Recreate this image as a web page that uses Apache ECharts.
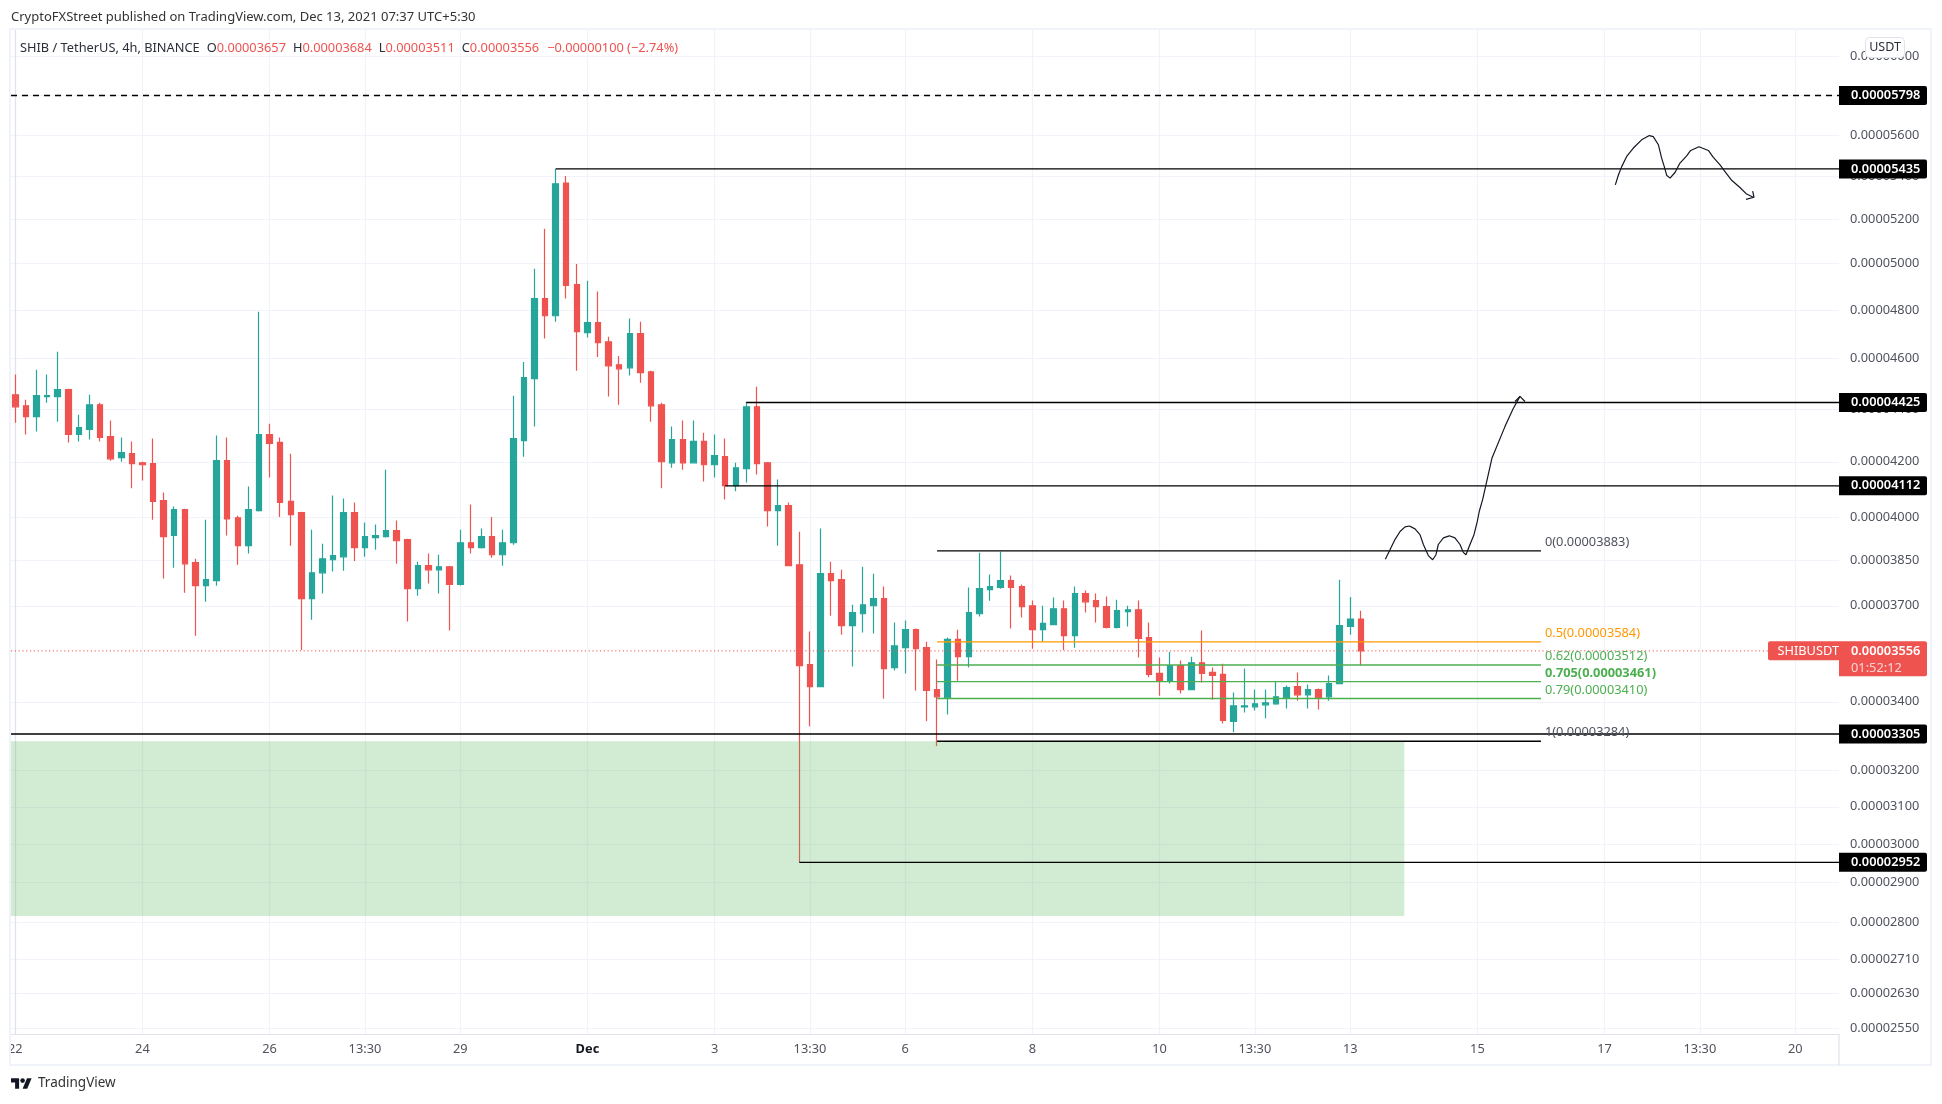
<!DOCTYPE html>
<html>
<head>
<meta charset="utf-8">
<title>SHIB / TetherUS</title>
<style>html,body{margin:0;background:#fff}#main{width:1942px;height:1104px}</style>
<script src="https://cdn.jsdelivr.net/npm/echarts@6/dist/echarts.min.js"></script>
</head>
<body>
<div id="main"></div>
<script type="text/javascript">
// prices are kept in units of 0.00000001 USDT, one entry per 4h bar
var opens = [4455,4412,4370,4448,4448,4475,4302,4321,4416,4294,4215,4230,4196,4193,4059,3936,4027,3843,3766,3783,
    4204,3998,3901,4023,4302,4272,4056,4016,3723,3809,3853,3863,4016,3894,3929,3932,3953,3922,3756,3833,
    3819,3829,3770,3911,3894,3932,3870,3911,4279,4519,4849,4776,5368,4909,4706,4747,4668,4574,4562,4702,
    4546,4416,4196,4283,4196,4276,4189,4219,4113,4175,4408,4196,4023,4041,3836,3513,3446,3806,3786,3636,
    3674,3700,3723,3504,3566,3623,3566,3437,3412,3592,3538,3674,3753,3760,3783,3763,3700,3623,3639,3690,
    3604,3740,3717,3697,3630,3681,3687,3598,3486,3464,3510,3437,3519,3489,3483,3342,3385,3385,3391,3394,
    3412,3446,3421,3437,3415,3455,3633,3657];
var highs = [4535,4436,4554,4535,4627,4479,4377,4455,4424,4355,4291,4276,4200,4287,4088,4038,4030,3856,3991,4298,
    4291,4005,4110,4793,4343,4291,4230,4019,3956,3908,4077,4066,4052,3981,3974,4171,3988,3925,3846,3874,
    3870,3832,3956,4045,3960,4001,3956,4451,4586,4978,5156,5435,5401,4999,4926,4879,4689,4610,4764,4751,
    4550,4424,4332,4355,4355,4309,4302,4287,4196,4428,4487,4199,4135,4052,3949,3617,3960,3846,3819,3703,
    3829,3806,3763,3646,3652,3627,3585,3529,3598,3623,3760,3877,3803,3880,3800,3770,3717,3700,3727,3717,
    3763,3750,3740,3730,3720,3700,3717,3646,3535,3553,3526,3538,3620,3504,3516,3428,3501,3437,3437,3461,
    3449,3489,3452,3440,3480,3786,3729,3684];
var lows = [4347,4302,4313,4424,4351,4272,4276,4283,4276,4204,4200,4103,4131,3991,3790,3826,3743,3604,3713,3766,
    3936,3836,3874,4020,4142,4001,3901,3559,3655,3740,3813,3816,3849,3863,3887,3929,3839,3649,3733,3773,
    3740,3620,3767,3874,3891,3860,3833,3904,4219,4332,4681,4751,4849,4550,4685,4606,4448,4416,4531,4503,
    4351,4103,4178,4171,4194,4128,4142,4063,4092,4124,4153,3967,3901,3831,2952,3328,3444,3668,3607,3507,
    3614,3611,3409,3495,3486,3434,3342,3270,3362,3464,3504,3665,3716,3756,3627,3662,3563,3585,3637,3559,
    3566,3678,3646,3627,3627,3633,3535,3474,3418,3455,3425,3436,3458,3406,3336,3310,3368,3374,3351,3391,
    3380,3403,3380,3377,3403,3453,3607,3511];
var closes = [4408,4370,4452,4452,4475,4302,4328,4416,4291,4211,4234,4193,4189,4056,3932,4027,3839,3766,3786,4204,
    3994,3901,4027,4302,4268,4052,4009,3723,3809,3856,3867,4016,3894,3932,3936,3953,3918,3756,3833,3819,
    3829,3770,3911,3894,3932,3870,3911,4287,4523,4849,4776,5364,4905,4710,4747,4664,4570,4558,4702,4543,
    4412,4200,4283,4196,4276,4189,4223,4113,4178,4408,4193,4023,4041,3833,3510,3446,3806,3783,3636,3678,
    3703,3723,3501,3572,3623,3563,3434,3415,3592,3538,3678,3756,3763,3783,3760,3697,3623,3643,3690,3604,
    3740,3713,3697,3630,3684,3687,3595,3483,3464,3510,3437,3519,3486,3480,3345,3388,3388,3394,3397,3415,
    3443,3421,3437,3412,3455,3636,3657,3556];

// bar index -> time scale label
var xTickBars = [0,12,24,33,42,54,66,75,84,96,108,117,126,138,150,159,168];
var xTickLabels = ["22","24","26","13:30","29","Dec","3","13:30","6","8","10","13:30","13","15","17","13:30","20"];
var yTickPrices = [6000,5800,5600,5400,5200,5000,4800,4600,4400,4200,4000,3850,3700,3400,3200,3100,3000,2900,2800,2710,2630,2550];

// horizontal levels drawn on the chart
var levelPrices = [5798,5435,4425,4112,3305,2952];
var levelStartBars = [null,51,69,67,null,74];
var dashedLevel = 5798;
var lastPrice = 3556;
var priceChange = -100;
var changePercent = "−2.74%";
var countdown = "01:52:12";

// fibonacci retracement
var fibRatios = ["0","0.5","0.62","0.705","0.79","1"];
var fibPrices = [3883,3584,3512,3461,3410,3284];
var fibStartBar = 87;
var fibEndBar = 144;

// green zone
var zoneTop = 3284;
var zoneBottom = 2816;
var zoneEndBar = 131.1;

// hand drawn paths, [bar, price]
var sketchTop = [[151.02,5359],[151.3,5405],[151.62,5446],[152.09,5495],[152.72,5536],[153.5,5576],[154.23,5597],[154.6,5592],
    [155.08,5552],[155.39,5487],[155.64,5446],[155.86,5405],[156.18,5391],[156.65,5418],[157.12,5463],[157.75,5498],[158.13,5524],
    [158.91,5542],[159.8,5524],[160.27,5491],[160.9,5454],[161.37,5422],[162,5381],[162.78,5347],[163.41,5316],[164.04,5301]];
var sketchTopHead = [[163.98,5330],[164.11,5301],[163.35,5291]];
var sketchUp = [[129.31,3855],[129.75,3887],[130.22,3922],[130.7,3950],[131.17,3966],[131.58,3969],[132.11,3959],[132.58,3939],
    [132.9,3905],[133.37,3867],[133.78,3853],[134.09,3870],[134.31,3905],[134.79,3928],[135.35,3935],[135.88,3928],[136.36,3905],
    [136.67,3878],[136.92,3870],[137.3,3905],[137.68,3939],[137.99,3985],[138.18,4021],[138.5,4063],[139.38,4214],[140.6,4332],
    [141.36,4400],[142.02,4449]];
var sketchUpHead = [[141.55,4429],[142.02,4449],[142.49,4429]];

var FONT = '"Noto Sans", sans-serif';
var UP = "#26a69a", DOWN = "#ef5350";
var GRID_COLOR = "#f0f3fa", BORDER_COLOR = "#e0e3eb", TEXT_COLOR = "#50535e";
var X_MIN = -0.406, X_MAX = 172.13;
var fibColors = ["#50535e","#ff9800","#4caf50","#4caf50","#4caf50","#50535e"];

function fmt(v) {
    return (v / 100000000).toFixed(8);
}

function lineSeries(points, color, width, type) {
    return {
        type: "line",
        data: points,
        symbol: "none",
        silent: true,
        z: 5,
        lineStyle: {color: color, width: width, type: type || "solid"}
    };
}

var series = [];

series.push({
    type: "candlestick",
    barWidth: 6,
    silent: true,
    z: 2,
    data: opens.map(function (o, i) {
        return [i, o, closes[i], lows[i], highs[i]];
    }),
    itemStyle: {color: UP, color0: DOWN, borderColor: UP, borderColor0: DOWN, borderWidth: 1.2}
});

series.push({
    type: "line",
    data: [],
    silent: true,
    markArea: {
        silent: true,
        z: 4,
        itemStyle: {color: "rgba(76,175,80,0.25)"},
        data: [[{coord: [X_MIN, zoneTop]}, {coord: [zoneEndBar, zoneBottom]}]]
    }
});

var tags = [];
for (var l = 0; l < levelPrices.length; ++l) {
    var start = levelStartBars[l] == null ? X_MIN : levelStartBars[l];
    var dashed = levelPrices[l] == dashedLevel;
    series.push(lineSeries([[start, levelPrices[l]], [X_MAX, levelPrices[l]]], "#000", 1.3, dashed ? [6, 5] : "solid"));
    tags.push({
        value: [X_MAX, levelPrices[l]],
        label: {
            show: true, position: "right", distance: 0, formatter: fmt(levelPrices[l]),
            color: "#fff", backgroundColor: "#000", fontFamily: FONT, fontSize: 12.8, fontWeight: 600,
            width: 76, height: 18, lineHeight: 18, padding: [1, 0, 0, 12], borderRadius: [0, 2, 2, 0]
        }
    });
}

for (var f = 0; f < fibRatios.length; ++f) {
    series.push(lineSeries([[fibStartBar, fibPrices[f]], [fibEndBar, fibPrices[f]]], f == 0 || f == 5 ? "#000" : fibColors[f], 1.3));
    tags.push({
        value: [fibEndBar, fibPrices[f]],
        label: {
            show: true, position: "right", distance: 4, offset: [0, -8.5],
            formatter: fibRatios[f] + "(" + fmt(fibPrices[f]) + ")",
            color: fibColors[f], fontFamily: FONT, fontSize: 12.8, fontWeight: f == 3 ? "bold" : "normal"
        }
    });
}

series.push(lineSeries([[X_MIN, lastPrice], [X_MAX, lastPrice]], DOWN, 1, [1.2, 2.6]));
tags.push({
    value: [X_MAX, lastPrice],
    label: {
        show: true, position: "right", distance: 0, offset: [0, 8],
        formatter: "{p|" + fmt(lastPrice) + "}\n{t|" + countdown + "}",
        backgroundColor: DOWN, width: 76, height: 35, padding: [0, 0, 0, 12], borderRadius: [0, 2, 2, 0],
        rich: {
            p: {color: "#fff", fontFamily: FONT, fontSize: 12.8, fontWeight: 600, lineHeight: 19, height: 19},
            t: {color: "#fbd5d4", fontFamily: FONT, fontSize: 12.8, lineHeight: 16, height: 16}
        }
    }
});
tags.push({
    value: [X_MAX, lastPrice],
    label: {
        show: true, position: "left", distance: 0, formatter: "SHIBUSDT",
        color: "#fff", backgroundColor: DOWN, fontFamily: FONT, fontSize: 12.8,
        width: 67, height: 18, lineHeight: 18, padding: [1, 0, 0, 4], borderRadius: [2, 0, 0, 2]
    }
});

[sketchTop, sketchTopHead, sketchUp, sketchUpHead].forEach(function (path) {
    series.push(lineSeries(path, "#131722", 1.2));
});

series.push({
    type: "scatter",
    symbolSize: 0,
    silent: true,
    clip: false,
    z: 10,
    itemStyle: {opacity: 1},
    data: tags
});

var last = opens.length - 1;
var legendText = "{k|SHIB / TetherUS, 4h, BINANCE}{g|O}{v|" + fmt(opens[last]) + "}{k|H}{v|" + fmt(highs[last]) +
    "}{k|L}{v|" + fmt(lows[last]) + "}{k|C}{v|" + fmt(closes[last]) + "}{c|−" + fmt(-priceChange) + " (" + changePercent + ")}";

var myChart = echarts.init(document.getElementById("main"));
myChart.setOption({
    animation: false,
    backgroundColor: "#fff",
    textStyle: {fontFamily: FONT},
    title: [{
        text: "CryptoFXStreet published on TradingView.com, Dec 13, 2021 07:37 UTC+5:30",
        left: 11, top: 11, padding: 0,
        textStyle: {fontFamily: FONT, fontSize: 13, fontWeight: "normal", color: "#333"}
    }, {
        text: legendText,
        left: 20, top: 42, padding: 0,
        textStyle: {
            fontFamily: FONT, fontSize: 12.8, fontWeight: "normal",
            rich: {
                k: {color: "#2a2e39", fontFamily: FONT, fontSize: 12.8, fontWeight: "normal"},
                g: {color: "#2a2e39", fontFamily: FONT, fontSize: 12.8, fontWeight: "normal", padding: [0, 0, 0, 7]},
                v: {color: DOWN, fontFamily: FONT, fontSize: 12.8, fontWeight: "normal", padding: [0, 7, 0, 0]},
                c: {color: DOWN, fontFamily: FONT, fontSize: 12.8, fontWeight: "normal", padding: [0, 0, 0, 1]}
            }
        }
    }, {
        text: "TradingView",
        left: 38, top: 1076, padding: 0,
        textStyle: {fontFamily: FONT, fontSize: 13.5, fontWeight: "normal", color: "#333"}
    }],
    grid: {left: 11, right: 103, top: 30, bottom: 70},
    xAxis: {
        type: "value",
        min: X_MIN,
        max: X_MAX,
        axisLine: {onZero: false, lineStyle: {color: BORDER_COLOR, width: 1.2}},
        axisTick: {show: false, customValues: xTickBars},
        splitLine: {show: true, lineStyle: {color: GRID_COLOR, width: 1.2}},
        axisLabel: {
            customValues: xTickBars,
            margin: 9,
            color: TEXT_COLOR,
            fontFamily: FONT,
            fontSize: 12.8,
            formatter: function (v) {
                var text = xTickLabels[xTickBars.indexOf(v)];
                return text == "Dec" ? "{b|Dec}" : text;
            },
            rich: {b: {fontWeight: "bold", color: "#131722", fontFamily: FONT, fontSize: 12.8}}
        }
    },
    yAxis: {
        type: "log",
        logBase: 10,
        position: "right",
        min: 2538,
        max: 6142,
        axisLine: {show: true, lineStyle: {color: BORDER_COLOR, width: 1.2}},
        axisTick: {show: false, customValues: yTickPrices},
        splitLine: {show: true, lineStyle: {color: GRID_COLOR, width: 1.2}},
        minorTick: {show: false},
        axisLabel: {
            customValues: yTickPrices,
            margin: 11,
            color: TEXT_COLOR,
            fontFamily: FONT,
            fontSize: 12.8,
            formatter: function (v) {
                return fmt(v);
            }
        }
    },
    graphic: [
        {type: "rect", z: 29, silent: true, shape: {x: 0, y: 1036, width: 10, height: 30}, style: {fill: "#fff"}},
        {type: "rect", z: 30, silent: true, shape: {x: 10, y: 29, width: 1921, height: 1036}, style: {fill: "none", stroke: GRID_COLOR, lineWidth: 2}},
        {type: "line", z: 30, silent: true, shape: {x1: 1839, y1: 1034, x2: 1839, y2: 1065}, style: {stroke: BORDER_COLOR, lineWidth: 1.2}},
        {type: "rect", z: 31, silent: true, shape: {x: 1865.5, y: 37.5, width: 39, height: 20, r: 4}, style: {fill: "#fff", stroke: BORDER_COLOR, lineWidth: 1}},
        {type: "text", z: 32, silent: true, x: 1885, y: 47.5, style: {text: "USDT", align: "center", verticalAlign: "middle", fill: "#2a2e39", font: '12.5px "Noto Sans"'}},
        {type: "polygon", z: 32, silent: true, shape: {points: [[11, 1078.3], [19.1, 1078.3], [19.1, 1088.8], [15.1, 1088.8], [15.1, 1082.4], [11, 1082.4]]}, style: {fill: "#131722"}},
        {type: "circle", z: 32, silent: true, shape: {cx: 22.6, cy: 1080.6, r: 2.3}, style: {fill: "#131722"}},
        {type: "polygon", z: 32, silent: true, shape: {points: [[27, 1078.3], [31.6, 1078.3], [27.2, 1088.8], [22.6, 1088.8]]}, style: {fill: "#131722"}}
    ],
    series: series
});
</script>
</body>
</html>
